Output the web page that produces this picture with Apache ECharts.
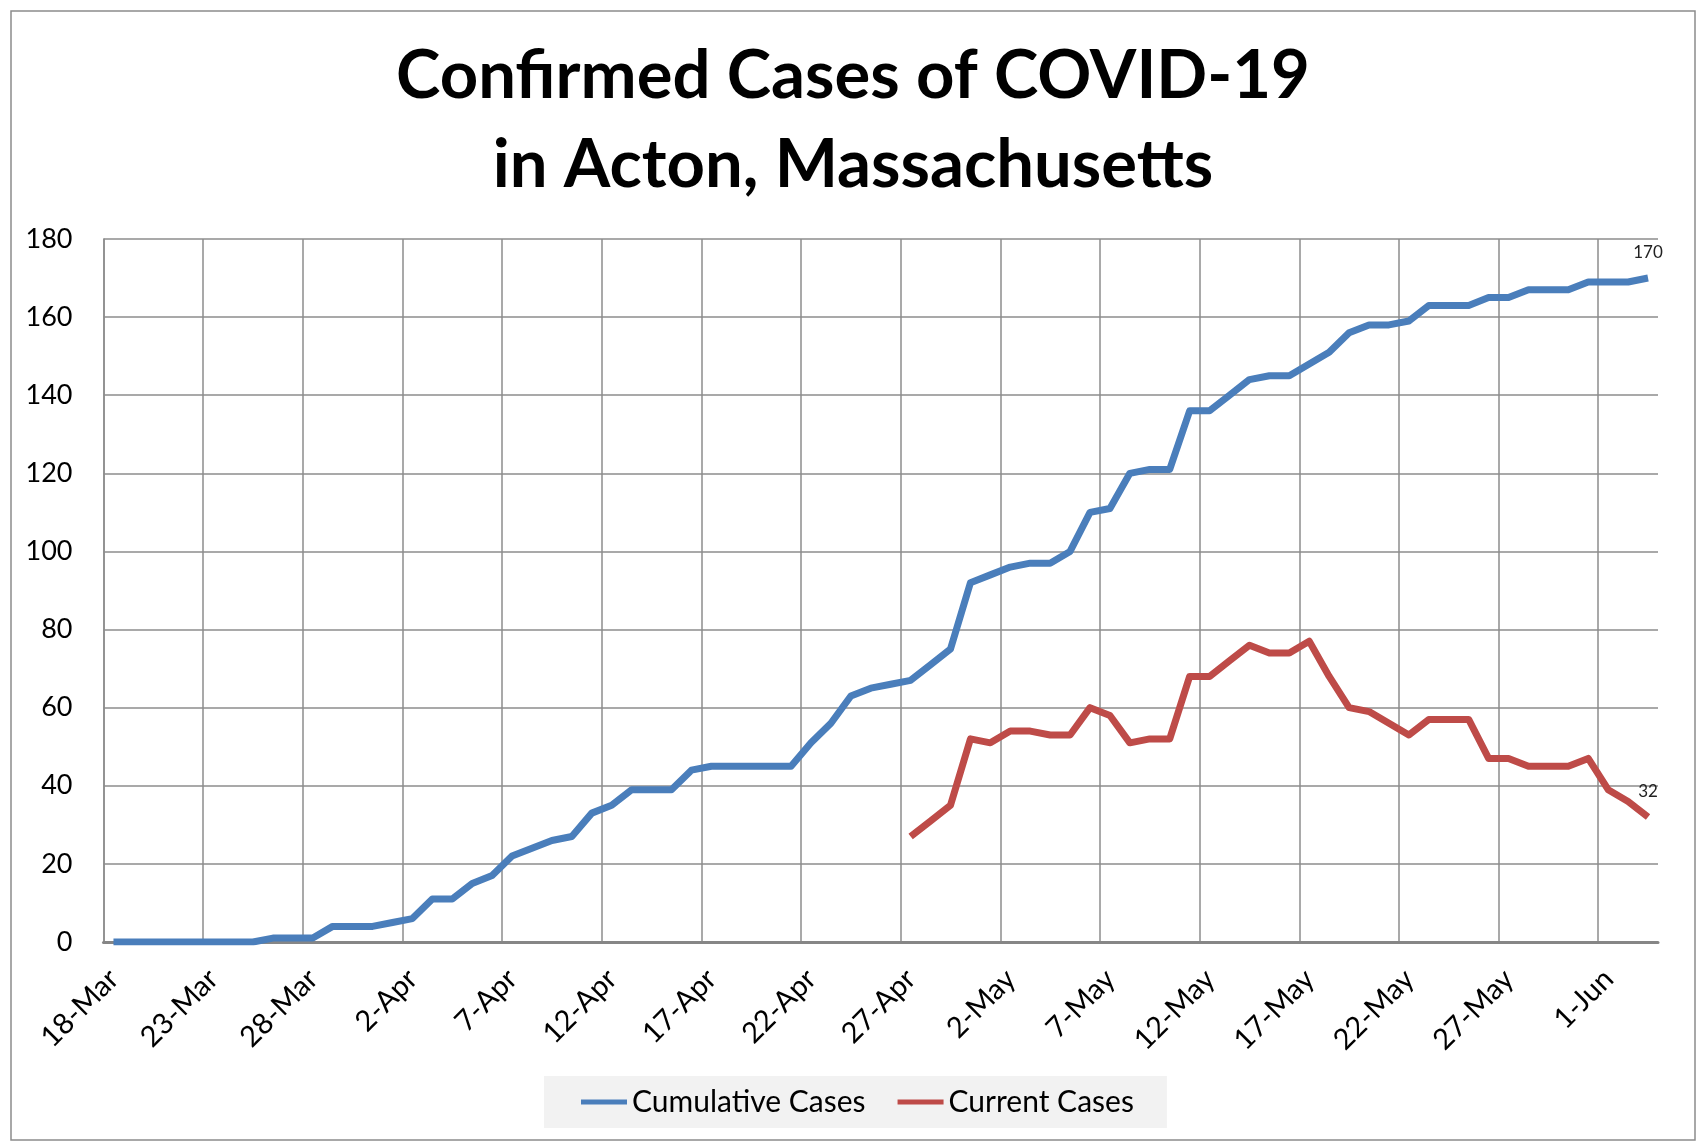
<!DOCTYPE html>
<html>
<head>
<meta charset="utf-8">
<script src="https://cdn.jsdelivr.net/npm/echarts@6/dist/echarts.min.js"></script>
<style>
html,body{margin:0;padding:0;background:#fff;}
#chart{width:1706px;height:1145px;}
</style>
</head>
<body>
<div id="chart"></div>
<script>
// Day 0 = 18-Mar; one value per day through 3-Jun
const tickLabels = ['18-Mar','23-Mar','28-Mar','2-Apr','7-Apr','12-Apr','17-Apr','22-Apr','27-Apr','2-May','7-May','12-May','17-May','22-May','27-May','1-Jun'];

const cumulativeCases = [
  0,0,0,0,0,0,0,0,
  1,1,1,
  4,4,4,
  5,6,
  11,11,
  15,17,22,24,26,27,33,35,39,39,39,44,
  45,45,45,45,45,
  51,56,63,65,66,67,71,75,92,94,
  96,97,97,100,110,111,120,121,121,136,
  136,140,144,145,145,148,151,156,158,158,
  159,163,163,163,165,165,167,167,167,169,
  169,169,170
];

const currentStartDay = 40; // 27-Apr
const currentCases = [
  27,31,35,52,51,54,54,53,53,60,
  58,51,52,52,68,68,72,76,74,74,
  77,68,60,59,56,53,57,57,57,47,
  47,45,45,45,47,39,36,32
];

const seriesNames = ['Cumulative Cases', 'Current Cases'];
const titleText = 'Confirmed Cases of COVID-19\nin Acton, Massachusetts';

function toPoints(values, startDay) {
  return values.map((v, k) => {
    const item = { value: [startDay + k + 0.5, v] };
    if (k === values.length - 1) item.label = { show: true };
    return item;
  });
}

const FONT = 'Lato';
const GRID = '#8c8c8c';

const chart = echarts.init(document.getElementById('chart'));
chart.setOption({
  animation: false,
  backgroundColor: '#fff',
  textStyle: { fontFamily: FONT },
  title: {
    text: titleText,
    left: 'center',
    top: 27,
    textStyle: { fontFamily: FONT, fontSize: 67, fontWeight: 'bold', color: '#000', lineHeight: 89 }
  },
  graphic: [{
    type: 'rect',
    shape: { x: 11, y: 11, width: 1684, height: 1129 },
    style: { fill: 'none', stroke: GRID, lineWidth: 1.5 },
    silent: true
  }],
  legend: {
    data: seriesNames,
    left: 544,
    top: 1076,
    padding: [11, 33, 11, 37],
    backgroundColor: '#f2f2f2',
    icon: 'rect',
    itemWidth: 46,
    itemHeight: 5,
    itemGap: 32,
    textStyle: { fontFamily: FONT, fontSize: 30, color: '#000' }
  },
  grid: { left: 103.5, right: 48, top: 239, bottom: 203 },
  xAxis: {
    type: 'value',
    min: 0,
    max: 78,
    interval: 5,
    axisLine: { show: true, lineStyle: { color: '#868686', width: 3 } },
    axisTick: { show: false },
    splitLine: { show: true, showMaxLine: false, lineStyle: { color: GRID, width: 1.5 } },
    axisLabel: {
      rotate: 45,
      margin: 22,
      fontSize: 29,
      color: '#000',
      fontFamily: FONT,
      verticalAlign: 'top',
      showMaxLabel: false,
      formatter: v => (v % 5 === 0 && tickLabels[v / 5]) ? tickLabels[v / 5] : ''
    }
  },
  yAxis: {
    type: 'value',
    min: 0,
    max: 180,
    interval: 20,
    axisLine: { show: true, lineStyle: { color: GRID, width: 1.5 } },
    axisTick: { show: false },
    splitLine: { show: true, lineStyle: { color: GRID, width: 1.5 } },
    axisLabel: { fontSize: 27, color: '#000', margin: 31, fontFamily: FONT }
  },
  series: [
    {
      name: seriesNames[0],
      type: 'line',
      data: toPoints(cumulativeCases, 0),
      showSymbol: true,
      symbol: 'circle',
      symbolSize: 0,
      silent: true,
      lineStyle: { width: 7, color: '#4a7ebb', join: 'round' },
      itemStyle: { color: '#4a7ebb' },
      label: { show: false, position: 'top', distance: 17, fontSize: 17, color: '#222', fontFamily: FONT, formatter: p => p.value[1] }
    },
    {
      name: seriesNames[1],
      type: 'line',
      data: toPoints(currentCases, currentStartDay),
      showSymbol: true,
      symbol: 'circle',
      symbolSize: 0,
      silent: true,
      lineStyle: { width: 7, color: '#be4b48', join: 'round' },
      itemStyle: { color: '#be4b48' },
      label: { show: false, position: 'top', distance: 17, fontSize: 17, color: '#222', fontFamily: FONT, formatter: p => p.value[1] }
    }
  ]
});
</script>
</body>
</html>
